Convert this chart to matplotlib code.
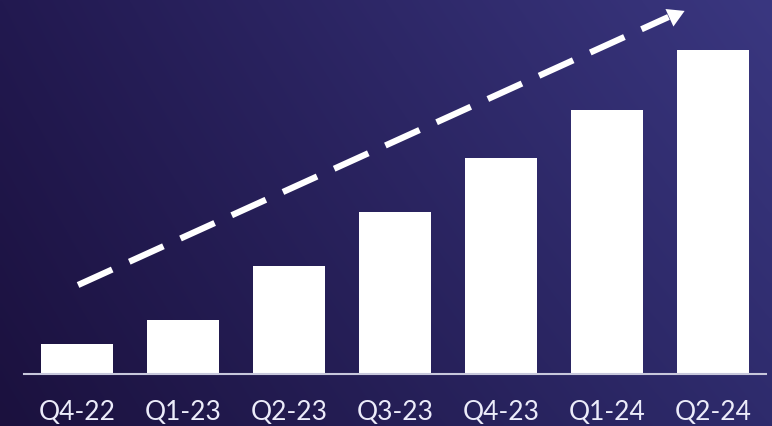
import numpy as np
import matplotlib
matplotlib.use("Agg")
import matplotlib.pyplot as plt

categories = ["Q4-22", "Q1-23", "Q2-23", "Q3-23", "Q4-23", "Q1-24", "Q2-24"]
values = [30, 54, 108, 162, 216, 264, 324]
trend_start = (0.01, 89)
trend_end = (5.68, 362)

W, H = 772, 427
fig = plt.figure(figsize=(W / 100, H / 100), dpi=100)

# gradient background
bg = fig.add_axes([0, 0, 1, 1], zorder=0)
bg.axis("off")
xs = np.linspace(0, 1, 200)
ys = np.linspace(0, 1, 120)
X, Y = np.meshgrid(xs, ys)
c_bl = np.array([0x1b, 0x11, 0x3e]) / 255
c_tl = np.array([0x22, 0x19, 0x50]) / 255
c_br = np.array([0x2e, 0x2b, 0x6c]) / 255
c_tr = np.array([0x3a, 0x37, 0x80]) / 255
img = (c_bl[None, None, :] * ((1 - X) * (1 - Y))[..., None]
       + c_tl[None, None, :] * ((1 - X) * Y)[..., None]
       + c_br[None, None, :] * (X * (1 - Y))[..., None]
       + c_tr[None, None, :] * (X * Y)[..., None])
bg.imshow(img, origin="lower", extent=[0, 1, 0, 1], aspect="auto", interpolation="bilinear")
bg.set_xlim(0, 1)
bg.set_ylim(0, 1)

ax = fig.add_axes([24 / W, 52 / H, (766 - 24) / W, 375 / H], zorder=1)
ax.patch.set_alpha(0)
x = np.arange(len(categories))
ax.bar(x, values, width=0.68, color="white", zorder=2)
ax.set_xlim(-0.5, 6.5)
ax.set_ylim(0, 375)
for s in ["top", "right", "left"]:
    ax.spines[s].set_visible(False)
ax.spines["bottom"].set_color("#c8c8dc")
ax.spines["bottom"].set_linewidth(1.5)
ax.set_yticks([])
ax.set_xticks(x)
ax.set_xticklabels(categories, fontsize=19, color="#ececfa", family=["Lato", "DejaVu Sans"], fontweight="normal")
ax.tick_params(axis="x", length=0, pad=18)

# dashed trend arrow
plt.rcParams["lines.scale_dashes"] = False
(ln,) = ax.plot([trend_start[0], trend_end[0] - 0.1], [trend_start[1], trend_end[1] - 5],
                color="white", lw=4.5, clip_on=False, zorder=3, solid_capstyle="butt")
ln.set_dashes([27, 13.5])
ln.set_dash_capstyle("butt")
ang = np.degrees(np.arctan2(274, 605))
ax.plot([trend_end[0] - 0.05], [trend_end[1] - 3], marker=(3, 0, ang - 90), markersize=16,
        color="white", clip_on=False, zorder=3, markeredgewidth=0)

fig.savefig("out.png", dpi=100)
